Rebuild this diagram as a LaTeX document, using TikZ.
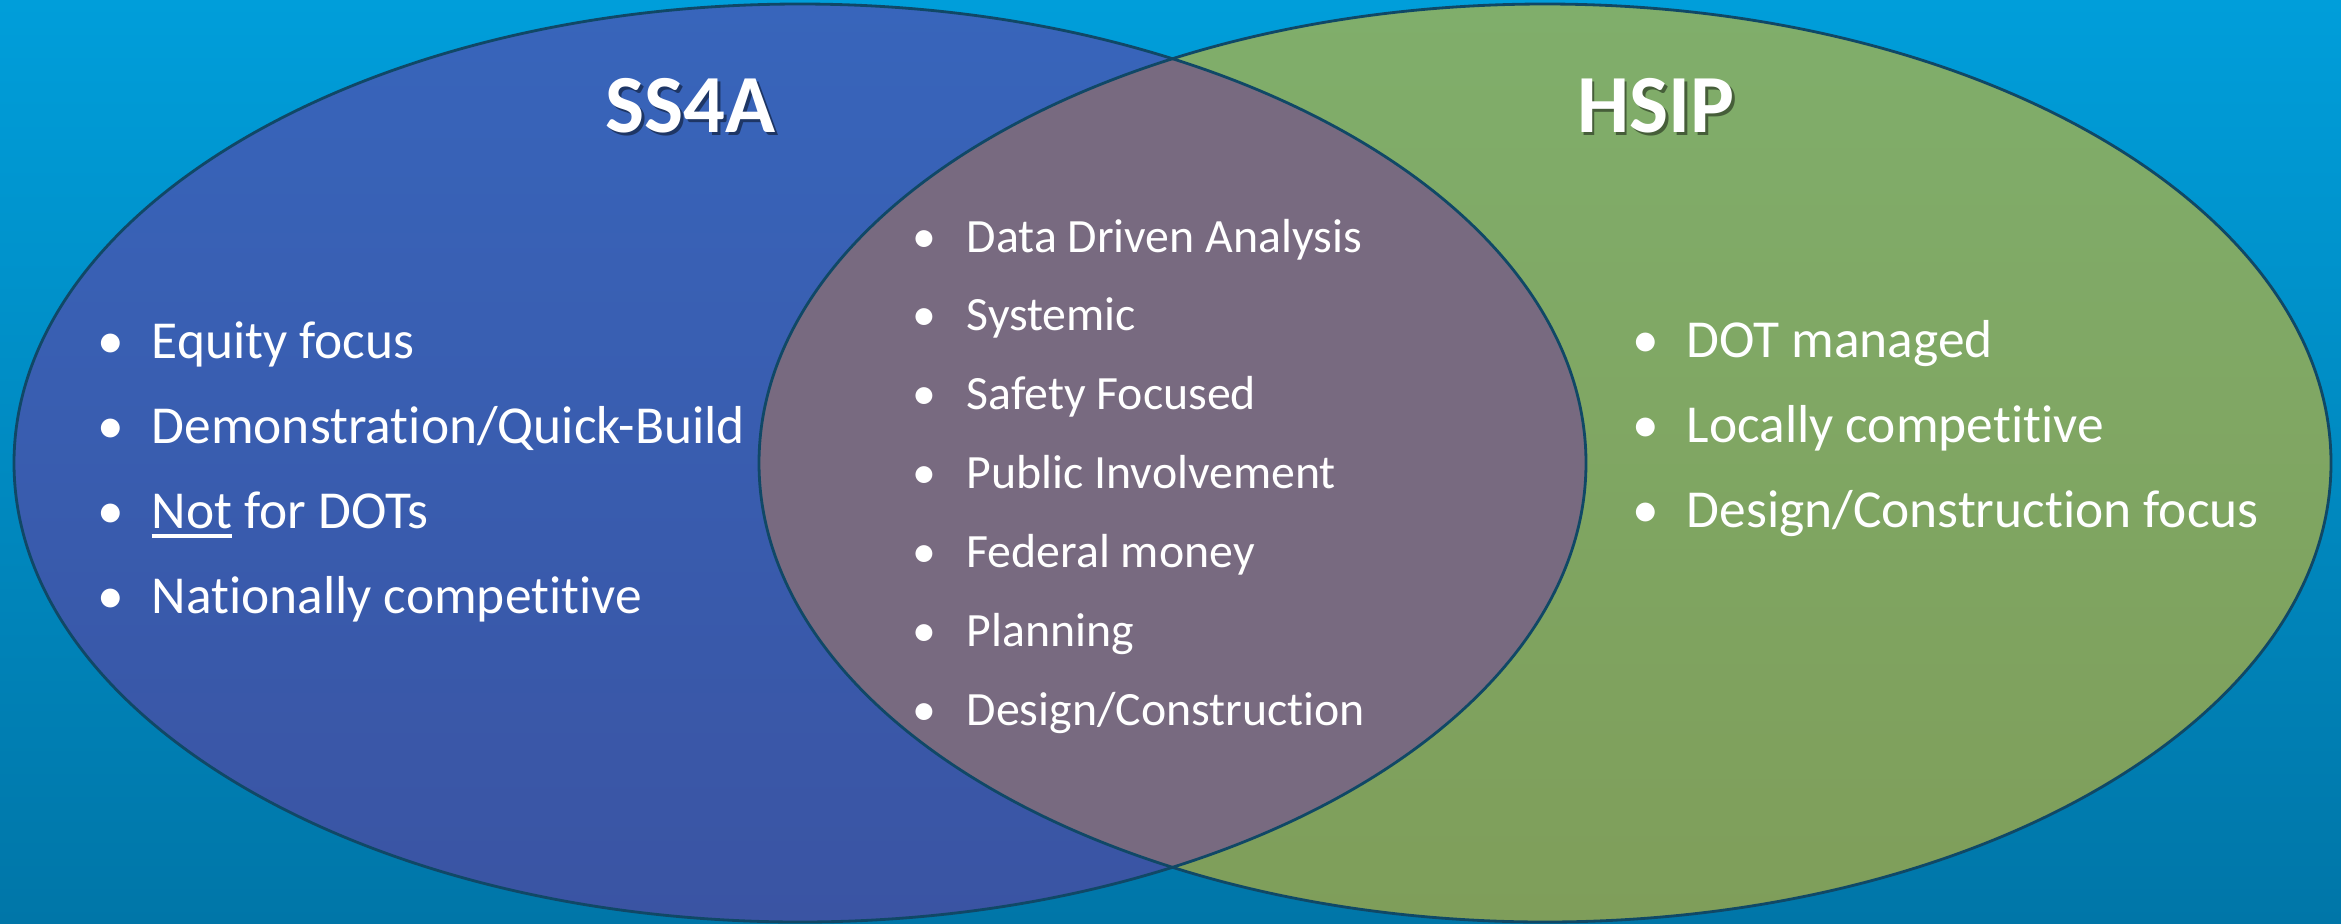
\documentclass[tikz,border=0pt]{standalone}
\usepackage{fontspec}
\setmainfont{Carlito}[Ligatures=NoCommon]
\usepackage{xcolor,tikz}
\usetikzlibrary{positioning}

\definecolor{skytop}{RGB}{0,158,218}
\definecolor{skybot}{RGB}{0,118,168}
\definecolor{bluetop}{RGB}{56,101,187}
\definecolor{bluebot}{RGB}{58,84,163}
\definecolor{greentop}{RGB}{128,174,107}
\definecolor{greenbot}{RGB}{127,158,90}
\definecolor{overlap}{RGB}{120,106,128}
\definecolor{rim}{RGB}{16,72,102}

\tikzset{
  title/.style={anchor=base,inner sep=0,text=white,font=\fontsize{23.5}{28}\selectfont\bfseries},
  shadow/.style={anchor=base,inner sep=0,text=black,opacity=0.45,font=\fontsize{23.5}{28}\selectfont\bfseries},
  item/.style={anchor=base west,inner sep=0,text=white,font=\fontsize{15.2}{18}\selectfont},
  core/.style={anchor=base west,inner sep=0,text=white,font=\fontsize{13.6}{16}\selectfont},
}
\newcommand{\dotmark}[1]{\llap{\textbullet\hspace{#1}}}
\newcommand{\uline}[1]{\setbox0\hbox{#1}\rlap{\rule[-0.19em]{\wd0}{0.075em}}#1}

\begin{document}
\begin{tikzpicture}
% backdrop
\shade[top color=skytop,bottom color=skybot] (0,0) rectangle (23.41,-9.23);
\useasboundingbox (0,0) rectangle (23.41,-9.23);
\coordinate (ssc) at (8,-4.63);
\coordinate (hsc) at (15.45,-4.63);
% the two sets
\shade[top color=bluetop,bottom color=bluebot] (ssc) ellipse [x radius=7.86,y radius=4.59];
\shade[top color=greentop,bottom color=greenbot] (hsc) ellipse [x radius=7.86,y radius=4.59];
\begin{scope}
\clip (ssc) ellipse [x radius=7.86,y radius=4.59];
\fill[overlap] (hsc) ellipse [x radius=7.86,y radius=4.59];
\end{scope}
\draw[rim,line width=0.8pt] (ssc) ellipse [x radius=7.86,y radius=4.59];
\draw[rim,line width=0.8pt] (hsc) ellipse [x radius=7.86,y radius=4.59];

% headings
\node[shadow] (ss4a-s) at (6.93,-1.35) {SS4A};
\node[title] (ss4a) at (6.905,-1.32) {SS4A};
\node[shadow] (hsip-s) at (16.585,-1.35) {HSIP};
\node[title] (hsip) at (16.56,-1.32) {HSIP};

% lists
\foreach \txt [count=\i from 0] in {Equity focus,Demonstration/Quick-Build,{\uline{Not} for DOTs},Nationally competitive}
  \node[item] (ss\i) at (1.51,{-3.58-0.85*\i}) {\dotmark{2.8mm}\txt};
\foreach \txt [count=\i from 0] in {Data Driven Analysis,Systemic,Safety Focused,Public Involvement,Federal money,Planning,Design/Construction}
  \node[core] (both\i) at (9.66,{-2.52-0.789*\i}) {\dotmark{3.0mm}\txt};
\foreach \txt [count=\i from 0] in {DOT managed,Locally competitive,Design/Construction focus}
  \node[item] (hs\i) at (16.86,{-3.575-0.85*\i}) {\dotmark{2.8mm}\txt};
\end{tikzpicture}
\end{document}
